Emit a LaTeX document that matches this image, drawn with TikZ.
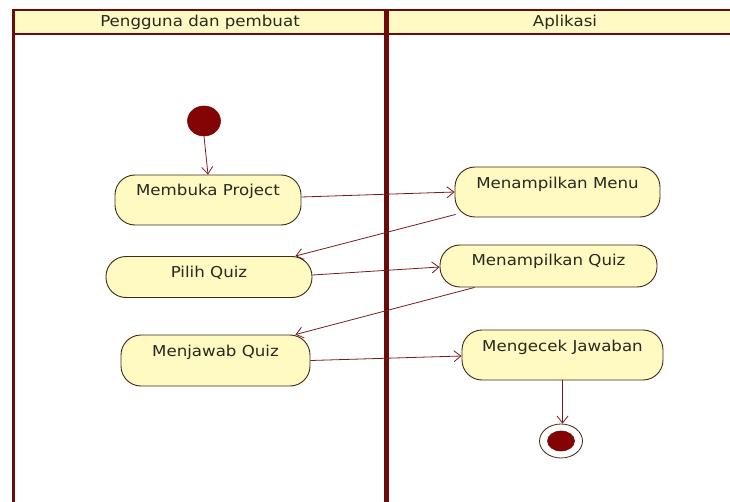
\documentclass[tikz,border=0pt]{standalone}
\usepackage{fontspec}
\setmainfont{DejaVu Sans}[FakeStretch=1.11]
\usetikzlibrary{arrows.meta,shapes.geometric}
\definecolor{laneline}{RGB}{108,10,12}
\definecolor{headfill}{RGB}{255,250,196}
\definecolor{actfill}{RGB}{255,250,194}
\definecolor{actborder}{RGB}{62,40,22}
\definecolor{flowcol}{RGB}{118,28,30}
\definecolor{textcol}{RGB}{38,42,30}
\definecolor{dotfill}{RGB}{132,4,6}
\begin{document}
\begin{tikzpicture}[x=1pt,y=-1pt,
  label text/.style={font=\fontsize{15}{18}\selectfont, text=textcol},
  act/.style={draw=actborder, fill=actfill, line width=0.9pt, rounded corners=20pt,
              inner sep=0pt, label text},
  flow/.style={draw=flowcol, line width=0.8pt,
               -{Straight Barb[length=7pt,width=11pt]}},
  lanerule/.style={draw=laneline, line cap=butt},
  dot/.style={ellipse, fill=dotfill, draw=laneline, line width=0.6pt, inner sep=0pt}]
\useasboundingbox (0,0) rectangle (730,502);
\clip (0,0) rectangle (730,502);

% swimlane frame and header band
\fill[headfill] (13,10) rectangle (745,34);
\draw[lanerule, line width=2.5pt] (12,10) -- (745,10);
\draw[lanerule, line width=2.5pt] (12,34) -- (745,34);
\draw[lanerule, line width=3pt] (13,9) -- (13,510);
\draw[lanerule, line width=5pt] (386,9) -- (386,510);
\node[label text] (laneA) at (200,22.5) {Pengguna dan pembuat};
\node[label text] (laneB) at (565,22.5) {Aplikasi};

% initial and final states
\node[dot, minimum width=33pt, minimum height=30pt] (start) at (204,121) {};
\node[ellipse, draw=actborder, fill=white, line width=0.8pt, inner sep=0pt,
      minimum width=43pt, minimum height=34pt] (fin) at (561,441) {};
\node[dot, minimum width=27pt, minimum height=20pt] (findot) at (fin.center) {};

% activities
\node[act, minimum width=186pt, minimum height=50pt, text height=21pt, text depth=29pt]
  (mp) at (208,200) {Membuka Project};
\node[act, minimum width=205pt, minimum height=50pt, text height=22pt, text depth=28pt]
  (mm) at (557.5,192) {Menampilkan Menu};
\node[act, minimum width=206pt, minimum height=41pt, text height=21pt, text depth=20pt]
  (pq) at (209,277) {Pilih Quiz};
\node[act, minimum width=217pt, minimum height=42pt, text height=21pt, text depth=21pt]
  (mq) at (548.5,266) {Menampilkan Quiz};
\node[act, minimum width=189pt, minimum height=51pt, text height=21pt, text depth=30pt]
  (mj) at (215.5,360.5) {Menjawab Quiz};
\node[act, minimum width=201pt, minimum height=50pt, text height=21pt, text depth=29pt]
  (mc) at (562.5,355) {Mengecek Jawaban};

% control flows
\draw[flow] (start.south) -- (mp.north);
\draw[flow] ([yshift=3pt]mp.east) -- (mm.west);
\draw[flow] ([xshift=1pt,yshift=3pt]mm.south west) -- ([xshift=-17pt]pq.north east);
\draw[flow] ([yshift=2pt]pq.east) -- ([yshift=-1pt]mq.west);
\draw[flow] ([xshift=35pt]mq.south west) -- ([xshift=-15pt]mj.north east);
\draw[flow] (mj.east) -- ([yshift=-1pt]mc.west);
\draw[flow] (mc.south) -- (mc.south |- fin.north);
\end{tikzpicture}
\end{document}
